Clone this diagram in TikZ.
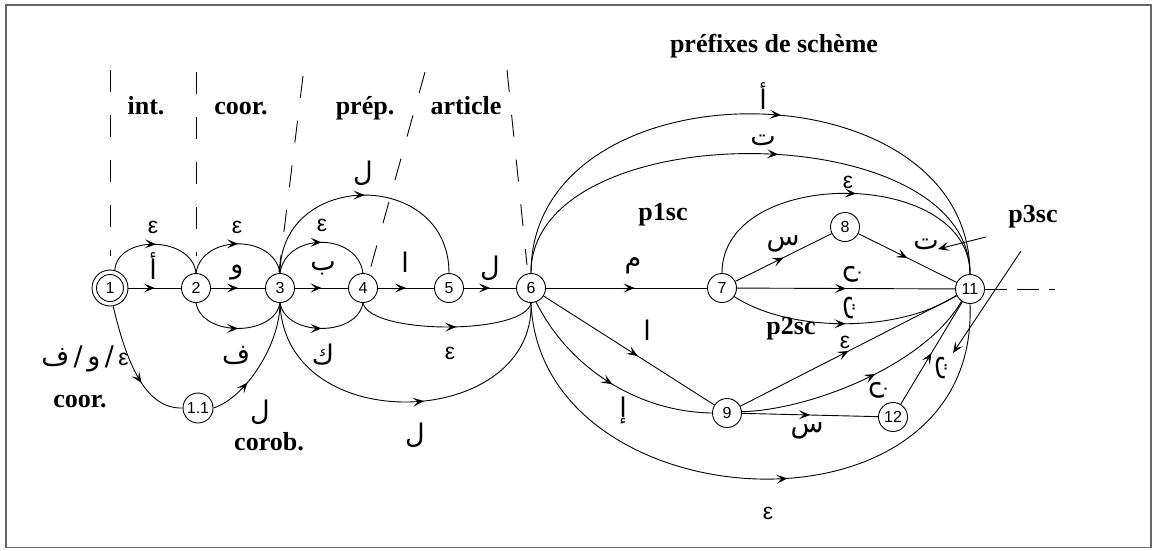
\documentclass[tikz,border=0pt]{standalone}
\usepackage{fontspec}
\setmainfont{Liberation Serif}
\newfontfamily\arabicfont[Script=Arabic]{DejaVu Sans}
\newfontfamily\numfont{Liberation Sans}
\TeXXeTstate=1
\usetikzlibrary{arrows.meta,decorations.markings}
\begin{document}
\begin{tikzpicture}[x=1pt,y=-1pt,line width=0.9pt,
  >={Stealth[length=11pt,width=9pt,inset=5pt]},
  st/.style={circle,draw,minimum size=29pt,inner sep=0pt,font=\numfont\fontsize{16}{16}\selectfont},
  lb/.style={anchor=base,font=\bfseries\fontsize{26}{30}\selectfont},
  eps/.style={font=\numfont\fontsize{23}{24}\selectfont,inner sep=0pt},
  ar/.style={font=\arabicfont\fontsize{27}{30}\selectfont,inner sep=0pt},
  arr/.style={postaction={decorate,decoration={markings,mark=at position #1 with {\arrow{>}}}}},
  arr/.default=0.5,
  sep/.style={dash pattern=on 22pt off 23pt,line width=0.9pt}]
\useasboundingbox (0,0) rectangle (1152,550);
\draw[black!60,line width=1.8pt] (6,5) rectangle (1151,547.5);

% separators
\draw[sep] (110,70) -- (110,256);
\draw[sep] (196,72) -- (196,256);
\draw[sep] (303,76) -- (279,272);
\draw[sep] (425,72) -- (370,270);
\draw[sep] (507,70) -- (527,265);

% states
\node[st,minimum size=36pt] (n1) at (110,288) {1};
\draw (n1.center) circle[radius=13.5pt];
\node[st] (n2) at (196,288) {2};
\node[st] (n3) at (280,288) {3};
\node[st] (n4) at (363,288) {4};
\node[st] (n5) at (449,288) {5};
\node[st] (n6) at (531,288) {6};
\node[st] (n7) at (722,288) {7};
\node[st] (n8) at (845,227) {8};
\node[st] (n9) at (727,413) {9};
\node[st] (n11) at (970,289) {11};
\node[st] (n12) at (893,417) {12};
\node[st,minimum size=30pt] (na) at (198,408) {1.1};

% left part
\draw[arr] (n1) -- (n2);
\draw[arr] (n1.75) .. controls +(3,-36) and +(-4,-37) .. (n2.north);
\draw[arr=0.62] (n1.-80) .. controls (128,370) and (148,409) .. (na.west);
\draw[arr=0.33] (na.east) .. controls (245,398) and (280,345) .. (n3.south);
\draw[arr] (n2) -- (n3);
\draw[arr] (n2.north) .. controls +(6,-39) and +(-6,-39) .. (n3.north);
\draw[arr] (n2.south) .. controls +(6,34) and +(-6,34) .. (n3.south);
\draw[arr] (n3) -- (n4);
\draw[arr] (n3.north) .. controls +(6,-41) and +(-6,-41) .. (n4.north);
\draw[arr] (n3.south) .. controls +(6,34) and +(-6,34) .. (n4.south);
\draw[arr] (n3.north) .. controls +(0,-104) and +(0,-104) .. (n5.north);
\draw[arr] (n4) -- (n5);
\draw[arr] (n5) -- (n6);
\draw[arr=0.55] (n4.south) .. controls (370,335) and (525,335) .. (n6.south);
\draw[arr=0.55] (n3.south) .. controls (285,440) and (535,430) .. (n6.south);

% right part
\draw[arr=0.55] (n6) -- (n7);
\draw[arr=0.55] (n6.north) .. controls +(0,-213) and +(0,-213) .. (n11.north);
\draw[arr=0.55] (n6.north) .. controls +(0,-160) and +(0,-160) .. (n11.north);
\draw[arr=0.53] (n7.north) .. controls +(0,-107) and +(0,-107) .. (n11.north);
\draw[arr] (n7) -- (n8);
\draw[arr] (n8) -- (n11);
\draw[arr] (n7) -- (n11);
\draw[arr] (n7.-35) .. controls (790,333) and (900,333) .. (n11.205);
\draw[arr=0.55] (n6) -- (n9);
\draw[arr=0.52] (n6.-70) .. controls (570,370) and (640,412) .. (n9.west);
\draw[arr] (n9) -- (n11);
\draw[arr=0.55] (n9.5) .. controls (810,410) and (925,365) .. (n11.235);
\draw[arr] (n9) -- (n12);
\draw[arr] (n12) -- (n11);
\draw[arr=0.55] (n6.south) .. controls (540,525) and (980,550) .. (n11.south);

\coordinate (d11) at (1055,289);
\draw[dash pattern=on 22pt off 10pt] (n11.east) -- (d11);

% p3sc pointers
\coordinate (pa1) at (986,237);
\coordinate (pa1e) at (938,249);
\coordinate (pa2) at (1021,251);
\coordinate (pa2e) at (953,353);
\draw[->] (pa1) -- (pa1e);
\draw[->] (pa2) -- (pa2e);

% edge labels
\node[eps] (e12) at (153,227) {ε};
\node[ar] (a12) at (153,266) {\beginR أ\endR};
\node[eps] (e23) at (237,227) {ε};
\node[ar] (w23) at (237,273) {\beginR و\endR};
\node[ar] (f23) at (236,356) {\beginR ف\endR};
\node[ar] (l13) at (260,412) {\beginR ل\endR};
\node[ar] (c1a) at (85,359) {\beginR ف\endR\,/\,\beginR و\endR\,/\,{\numfont\fontsize{23}{24}\selectfont ε}};
\node[eps] (e34) at (322,225) {ε};
\node[ar] (b34) at (323,268) {\beginR ب\endR};
\node[ar] (l35) at (363,173) {\beginR ل\endR};
\node[ar] (k34) at (323,355) {\beginR ك\endR};
\node[ar] (a45) at (405,262) {\beginR ا\endR};
\node[ar] (l56) at (490,268) {\beginR ل\endR};
\node[eps] (e46) at (450,353) {ε};
\node[ar] (l36) at (415,435) {\beginR ل\endR};
\node[ar] (m67) at (633,266) {\beginR م\endR};
\node[ar] (a611) at (763,96) {\beginR أ\endR};
\node[ar] (t611) at (763,140) {\beginR ت\endR};
\node[eps] (e711) at (848,182) {ε};
\node[ar] (s78) at (783,244) {\beginR س\endR};
\node[ar] (t811) at (926,244) {\beginR ت\endR};
\node[ar,rotate=-90] (n711) at (853,274) {\beginR ن\endR};
\node[ar,rotate=-90] (t711) at (850,308) {\beginR ت\endR};
\node[eps] (e911) at (845,342) {ε};
\node[ar,rotate=-90] (n911) at (879,390) {\beginR ن\endR};
\node[ar,rotate=-90] (t1211) at (942,368) {\beginR ت\endR};
\node[ar] (s912) at (807,431) {\beginR س\endR};
\node[ar] (a69) at (647,330) {\beginR ا\endR};
\node[ar] (h69) at (623,411) {\beginR إ\endR};
\node[eps] (e611) at (768,513) {ε};

% bold labels
\node[lb] (tpref) at (774,52) {préfixes de schème};
\node[lb] (tint) at (146,114) {int.};
\node[lb] (tcoor) at (241,114) {coor.};
\node[lb] (tprep) at (365,114) {prép.};
\node[lb] (tart) at (466,114) {article};
\node[lb] (tp1) at (663,220) {p1sc};
\node[lb] (tp2) at (791,334) {p2sc};
\node[lb] (tp3) at (1033,222) {p3sc};
\node[lb] (tcoor2) at (80,407) {coor.};
\node[lb] (tcorob) at (269,450) {corob.};
\end{tikzpicture}
\end{document}
